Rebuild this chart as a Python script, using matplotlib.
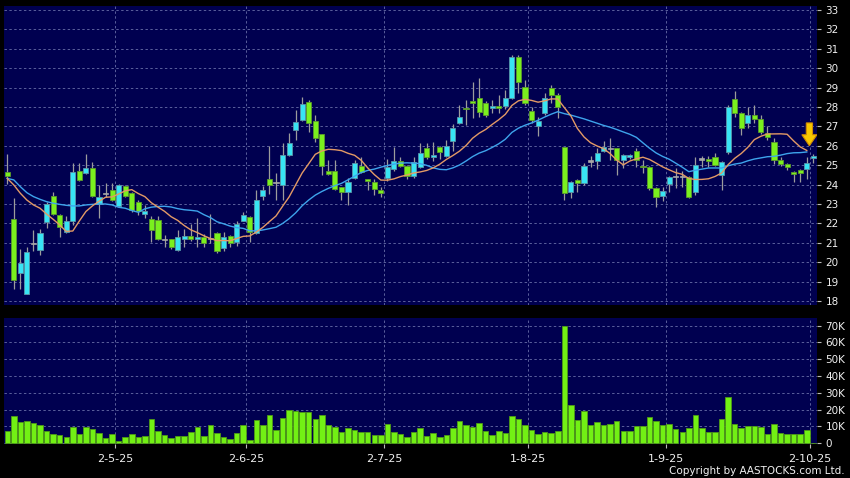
import matplotlib
matplotlib.use("Agg")
import matplotlib.pyplot as plt
from matplotlib.patches import FancyArrow
import numpy as np
import pandas as pd

# ---------------- data ----------------
opens = [24.67, 22.2, 19.45, 18.35, 20.97, 20.63, 22.05, 23.4, 22.45, 21.55,
         22.1, 24.72, 24.58, 24.85, 22.98, 23.55, 23.7, 22.9, 23.93, 23.55,
         23.1, 22.48, 22.21, 22.18, 21.18, 21.18, 20.63, 21.21, 21.35, 21.18,
         21.28, 21.23, 21.52, 20.72, 21.37, 21.02, 22.12, 22.35, 21.5, 23.43,
         24.27, 24.1, 24.0, 25.53, 26.81, 27.33, 28.24, 27.3, 26.59, 24.72,
         24.72, 23.86, 23.6, 24.32, 24.96, 24.27, 24.15, 23.72, 24.32, 24.79,
         25.23, 24.96, 24.44, 24.89, 25.87, 25.41, 25.92, 25.47, 26.26, 27.19,
         27.97, 28.29, 28.45, 28.22, 27.93, 28.05, 28.05, 28.45, 30.56, 29.05,
         27.79, 27.02, 27.67, 29.0, 28.62, 25.92, 23.63, 24.24, 24.07, 25.22,
         25.23, 25.75, 25.87, 25.87, 25.27, 25.41, 25.75, 24.98, 24.89, 23.81,
         23.43, 24.03, 24.41, 24.41, 24.41, 23.6, 25.32, 25.3, 25.44, 24.5,
         25.7, 28.4, 27.67, 27.16, 27.59, 27.37, 26.68, 26.21, 25.27, 25.06,
         24.67, 24.74, 24.79, 25.36]
highs = [25.58, 23.3, 20.7, 20.8, 21.65, 21.7, 23.1, 23.6, 22.5, 22.4,
         25.1, 25.13, 25.6, 25.15, 24.0, 24.1, 24.07, 24.05, 24.0, 23.6,
         23.2, 22.95, 22.38, 22.4, 21.4, 21.2, 21.65, 21.7, 21.95, 22.3,
         21.45, 22.5, 21.55, 21.58, 21.4, 22.1, 22.6, 22.4, 23.72, 23.95,
         26.0, 24.58, 26.13, 26.65, 27.85, 28.53, 28.35, 27.6, 26.6, 25.27,
         25.27, 23.9, 24.32, 25.27, 25.44, 24.3, 24.3, 23.9, 25.3, 25.95,
         25.4, 25.0, 25.44, 26.13, 26.16, 26.18, 26.0, 26.3, 27.12, 28.1,
         28.36, 29.3, 29.48, 28.3, 28.36, 28.6, 28.88, 30.68, 30.68, 29.4,
         28.0, 27.5, 28.7, 29.13, 28.7, 25.95, 24.2, 24.3, 25.1, 25.5,
         25.87, 26.26, 26.39, 25.9, 25.6, 25.6, 25.87, 25.27, 24.95, 23.85,
         23.9, 24.45, 24.84, 24.7, 24.45, 25.44, 25.45, 25.45, 25.64, 25.2,
         28.1, 28.84, 27.75, 28.0, 28.1, 27.6, 27.0, 26.39, 25.4, 25.1,
         24.7, 24.8, 25.41, 25.6]
lows = [24.03, 18.6, 18.6, 18.35, 20.6, 20.35, 21.75, 22.45, 21.3, 21.5,
        21.9, 24.2, 24.55, 23.35, 22.3, 23.35, 23.15, 22.85, 23.35, 22.6,
        22.45, 22.26, 21.06, 21.15, 20.8, 20.7, 20.58, 20.8, 21.1, 20.8,
        20.8, 21.0, 20.45, 20.55, 20.8, 20.85, 22.1, 21.06, 21.45, 23.2,
        23.5, 23.2, 23.2, 25.5, 26.3, 27.3, 26.73, 26.2, 24.5, 24.5,
        23.7, 23.2, 22.95, 24.3, 24.6, 23.72, 23.45, 23.35, 24.2, 24.7,
        24.9, 24.3, 24.32, 24.85, 25.3, 25.2, 25.3, 25.4, 25.75, 27.1,
        27.07, 27.42, 27.5, 27.5, 27.7, 27.7, 27.9, 28.4, 28.7, 28.1,
        27.2, 26.5, 27.6, 28.2, 27.42, 23.2, 23.3, 23.63, 24.0, 24.9,
        24.8, 25.7, 25.27, 24.5, 24.85, 25.3, 24.9, 24.6, 23.7, 22.86,
        23.17, 23.6, 23.81, 23.9, 23.29, 23.45, 24.9, 24.9, 24.95, 23.72,
        25.6, 27.5, 26.56, 26.9, 27.2, 26.6, 26.3, 25.05, 24.95, 24.75,
        24.15, 24.15, 24.3, 25.1]
closes = [24.46, 19.08, 19.95, 20.5, 20.97, 21.5, 23.0, 22.5, 21.8, 22.1,
          24.67, 24.25, 24.84, 23.4, 23.35, 23.55, 23.2, 24.0, 23.43, 22.7,
          22.65, 22.66, 21.66, 21.18, 21.18, 20.78, 21.3, 21.35, 21.2, 21.3,
          21.0, 21.23, 20.55, 21.3, 21.0, 21.95, 22.42, 21.57, 23.2, 23.72,
          23.98, 24.1, 25.53, 26.13, 27.21, 28.15, 27.2, 26.39, 24.96, 24.55,
          23.76, 23.63, 24.15, 25.1, 24.67, 24.2, 23.76, 23.55, 24.89, 25.23,
          24.96, 24.44, 25.18, 25.64, 25.44, 25.54, 25.66, 26.0, 26.9, 27.47,
          27.88, 28.19, 27.76, 27.59, 28.05, 27.96, 28.45, 30.56, 29.3, 28.22,
          27.33, 27.28, 28.45, 28.6, 27.98, 23.55, 24.15, 24.07, 24.96, 25.22,
          25.64, 25.92, 25.87, 25.27, 25.53, 25.53, 25.27, 24.9, 23.8, 23.35,
          23.69, 24.41, 24.41, 24.41, 23.38, 25.0, 25.32, 25.22, 25.01, 25.14,
          27.98, 27.67, 26.9, 27.59, 27.37, 26.73, 26.47, 25.27, 25.06, 24.92,
          24.53, 24.58, 25.1, 25.49]
volumes_k = [7.3, 16.3, 12.7, 13.3, 12.3, 10.9, 7.3, 5.6, 5.0, 4.0,
             9.9, 5.8, 9.9, 8.3, 6.0, 3.0, 5.4, 1.2, 3.8, 5.4,
             3.6, 4.6, 14.5, 7.1, 5.0, 3.2, 4.6, 4.4, 6.7, 9.5,
             4.4, 10.9, 6.2, 3.8, 2.6, 6.2, 10.7, 1.8, 13.9, 10.7,
             16.7, 7.7, 14.9, 19.8, 19.4, 18.8, 18.8, 14.5, 17.1, 10.7,
             9.7, 6.5, 8.9, 7.7, 6.9, 6.7, 5.2, 5.0, 11.3, 6.9,
             5.4, 3.8, 6.5, 9.2, 4.4, 6.3, 3.6, 4.8, 9.3, 13.3,
             10.9, 9.9, 11.9, 7.5, 5.0, 7.5, 6.0, 16.3, 14.5, 10.7,
             7.7, 5.6, 6.9, 6.0, 7.5, 70.0, 22.6, 13.7, 19.4, 10.7,
             12.9, 10.9, 11.3, 13.3, 7.5, 7.5, 10.5, 10.3, 15.7, 13.3,
             10.9, 11.5, 8.3, 6.9, 9.3, 16.9, 9.3, 6.9, 6.5, 14.5,
             27.8, 11.5, 8.9, 10.3, 10.3, 9.9, 5.6, 11.3, 6.3, 5.6,
             5.6, 5.4, 7.9, 0.4]
ma10_head = [24.32, 23.98, 23.55, 23.2, 22.95, 22.78, 22.48, 22.21, 21.92]
ma20_head = [24.32, 24.24, 23.89, 23.58, 23.38, 23.24, 23.12, 23.04, 22.98, 22.93,
             22.9, 22.9, 22.95, 22.98, 23.0, 23.0, 22.95, 22.83, 22.78]
date_labels = ["2-5-25", "2-6-25", "2-7-25", "1-8-25", "1-9-25", "2-10-25"]
date_index = [17, 37, 58, 80, 101, 123]
price_ticks = list(range(18, 34))
vol_ticks = [0, 10000, 20000, 30000, 40000, 50000, 60000, 70000]
vol_tick_labels = ["0", "10K", "20K", "30K", "40K", "50K", "60K", "70K"]

# ---------------- styling ----------------
BG = "#000050"
GRID = "#5a5f9c"
GREEN = "#7af01e"
GREEN_EDGE = "#5c9a2c"
CYAN = "#38e4f4"
CYAN_EDGE = "#5a96a8"
DOJI = "#a8a8a8"
WICK = "#9c9c9c"
MA10_C = "#e39a66"
MA20_C = "#3ea4ec"
TXT = "#f0f0f0"

o = np.array(opens); h = np.array(highs); l = np.array(lows); c = np.array(closes)
v = np.array(volumes_k) * 1000
n = len(c)
x = np.arange(n)

cs = pd.Series(c)
ma10 = cs.rolling(10).mean().to_numpy()
ma10[:len(ma10_head)] = ma10_head
ma20 = cs.rolling(20).mean().to_numpy()
ma20[:len(ma20_head)] = ma20_head

W, H = 850, 478
fig = plt.figure(figsize=(W / 100, H / 100), dpi=100, facecolor="black")
ax = fig.add_axes([4 / W, 1 - 305 / H, 813 / W, 299 / H], facecolor=BG)
axv = fig.add_axes([4 / W, 1 - 444 / H, 813 / W, 126 / H], facecolor=BG)

grid_x = [i - 0.5 for i in date_index]
for a in (ax, axv):
    for s in a.spines.values():
        s.set_visible(False)
    a.set_xlim(-0.5, 123.56)
    a.set_axisbelow(True)
    a.grid(True, color=GRID, linestyle=(0, (2.5, 2.5)), linewidth=0.7)
    a.yaxis.tick_right()
    a.tick_params(axis="y", colors="#bbbbbb", labelcolor=TXT, length=3,
                  width=0.8, pad=3, labelsize=7.5)

# ---- candles ----
up = c > o
down = c < o
flat = c == o
body_bottom = np.minimum(o, c)
body_h = np.maximum(np.abs(c - o), 0.06)
ax.vlines(x, l, h, color=WICK, linewidth=0.9, zorder=2)
ax.bar(x[up], body_h[up], bottom=body_bottom[up], width=0.78,
       color=CYAN, edgecolor=CYAN_EDGE, linewidth=0.6, zorder=3)
ax.bar(x[down], body_h[down], bottom=body_bottom[down], width=0.78,
       color=GREEN, edgecolor=GREEN_EDGE, linewidth=0.6, zorder=3)
ax.bar(x[flat], body_h[flat], bottom=body_bottom[flat] - 0.03, width=0.78,
       color=DOJI, edgecolor=DOJI, linewidth=0.5, zorder=3)

# ---- moving averages (up to the last completed session) ----
ax.plot(x[:-1], ma20[:-1], color=MA20_C, linewidth=1.0, zorder=4)
ax.plot(x[:-1], ma10[:-1], color=MA10_C, linewidth=1.0, zorder=4)

# ---- marker arrow above the latest candle ----
tip_y = h[-1] + 0.4
arr = FancyArrow(x[-1] - 0.6, tip_y + 1.18, 0, -1.18, width=0.95,
                 head_width=2.3, head_length=0.57, length_includes_head=True,
                 facecolor="#f7c800", edgecolor="#d08a00", linewidth=0.8, zorder=6)
ax.add_patch(arr)

ax.set_ylim(17.79, 33.21)
ax.set_yticks(price_ticks)
ax.set_yticklabels([str(t) for t in price_ticks])
ax.set_xticks(grid_x)
ax.tick_params(axis="x", length=0, labelbottom=False)

# ---- volume ----
axv.bar(x, v, width=0.84, color="#72f014", edgecolor="#4f9a16",
        linewidth=0.6, zorder=3)
axv.set_ylim(-420, 74580)
axv.set_yticks(vol_ticks)
axv.set_yticklabels(vol_tick_labels)
axv.set_xticks(grid_x)
axv.set_xticklabels(date_labels)
axv.tick_params(axis="x", colors="#bbbbbb", labelcolor=TXT, length=3,
                width=0.8, pad=4, labelsize=8)

fig.text(845 / W, 1 - 471 / H, "Copyright by AASTOCKS.com Ltd.", color=TXT,
         fontsize=7.5, ha="right", va="center")

fig.savefig("out.png", dpi=100, facecolor="black")
